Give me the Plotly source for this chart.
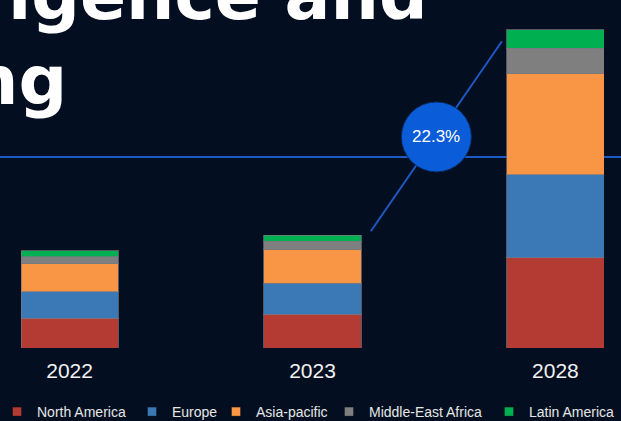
import plotly.graph_objects as go

# ---- data ----
categories = ["2022", "2023", "2028"]
north_america = [2.1, 2.4, 6.4]
europe = [1.9, 2.2, 5.9]
asia_pacific = [2.0, 2.4, 7.2]
middle_east_africa = [0.5, 0.6, 1.8]
latin_america = [0.4, 0.4, 1.3]
total_labels = ["6.9", "8.3", "22.6"]
cagr_label = "22.3%"
title_line1 = "igence and"
title_line2 = "ng"

series_names = ["North America", "Europe", "Asia-pacific", "Middle-East Africa", "Latin America"]
series_values = [north_america, europe, asia_pacific, middle_east_africa, latin_america]
series_colors = ["#B33B33", "#3B79B6", "#F89646", "#7F7F7F", "#00AF50"]
legend_marker_px = [19, 154, 238, 351, 511]

BG = "#030F20"
W, H = 621, 421
ML, MR, MT, MB = 21, 17, 0, 73
PW, PH = W - ML - MR, H - MT - MB
YMAX = 24.73

def px_x(p):
    return (p - ML) / PW

def px_y(p):
    return (PH - (p - MT)) / PH

fig = go.Figure()

legend_layouts = {}
for i, (name, vals, col) in enumerate(zip(series_names, series_values, series_colors)):
    lid = "legend" if i == 0 else f"legend{i + 1}"
    fig.add_trace(go.Bar(
        x=categories, y=vals, name=name, showlegend=False,
        marker=dict(color=col, line=dict(color="rgba(120,120,130,0.7)", width=1)),
        width=0.4, hoverinfo="skip",
    ))
    fig.add_trace(go.Scatter(
        x=[None], y=[None], mode="markers", name=name, legend=lid,
        marker=dict(symbol="square", size=9, color=col,
                    line=dict(color="rgba(0,0,0,0.3)", width=1)),
    ))
    legend_layouts[lid] = dict(
        orientation="h", xref="paper", yref="paper",
        x=px_x(legend_marker_px[i] - 22), y=px_y(412),
        xanchor="left", yanchor="middle",
        font=dict(family="Liberation Sans, Arial", size=14, color="#E6E6E6"),
        bgcolor="rgba(0,0,0,0)", borderwidth=0,
        itemclick=False, itemdoubleclick=False,
    )

totals = [sum(v) for v in zip(*series_values)]

annotations = []
for cat, tot, lab in zip(categories, totals, total_labels):
    annotations.append(dict(
        x=cat, y=tot, xref="x", yref="y", text=lab, showarrow=False,
        yanchor="bottom", yshift=4,
        font=dict(family="Liberation Sans, Arial", size=16, color="#F2F2F2"),
    ))

# CAGR bubble
cx, cy = 1.51, 15.0
annotations.append(dict(
    x=cx, y=cy, xref="x", yref="y", text=cagr_label, showarrow=False,
    font=dict(family="Liberation Sans, Arial", size=17, color="#FFFFFF"),
))

# Title fragments (slide title, partly outside the frame)
annotations.append(dict(
    x=px_x(430), y=px_y(-5), xref="paper", yref="paper", text=title_line1,
    showarrow=False, xanchor="right", yanchor="middle",
    font=dict(family="DejaVu Sans", size=68, color="#FFFFFF", weight="bold"),
))
annotations.append(dict(
    x=px_x(69), y=px_y(80), xref="paper", yref="paper", text=title_line2,
    showarrow=False, xanchor="right", yanchor="middle",
    font=dict(family="DejaVu Sans", size=68, color="#FFFFFF", weight="bold"),
))

shapes = [
    dict(type="line", xref="paper", yref="paper", x0=-0.1, x1=1.1,
         y0=13.57 / YMAX, y1=13.57 / YMAX, line=dict(color="#1D58C4", width=2), layer="below"),
    dict(type="line", xref="x", yref="y", x0=1.24, y0=8.3, x1=1.78, y1=21.8,
         line=dict(color="#1D58C4", width=2), layer="below"),
    dict(type="circle", xref="x", yref="y", xsizemode="pixel", ysizemode="pixel",
         xanchor=cx, yanchor=cy, x0=-35, x1=35, y0=-35, y1=35,
         fillcolor="#0A5CD8", line=dict(color="#0A2A60", width=1), layer="below"),
]

fig.update_layout(
    width=W, height=H,
    margin=dict(l=ML, r=MR, t=MT, b=MB, autoexpand=False),
    paper_bgcolor=BG, plot_bgcolor=BG,
    barmode="stack",
    xaxis=dict(range=[-0.2, 2.2], showgrid=False, zeroline=False, showline=False,
               ticks="", tickfont=dict(family="Liberation Sans, Arial", size=21, color="#F2F2F2"),
               ticklabelstandoff=8, fixedrange=True, automargin=False),
    yaxis=dict(range=[0, YMAX], visible=False, fixedrange=True),
    annotations=annotations,
    shapes=shapes,
    showlegend=True,
    **legend_layouts,
)

fig.write_html("out.html", config={"displayModeBar": False})
